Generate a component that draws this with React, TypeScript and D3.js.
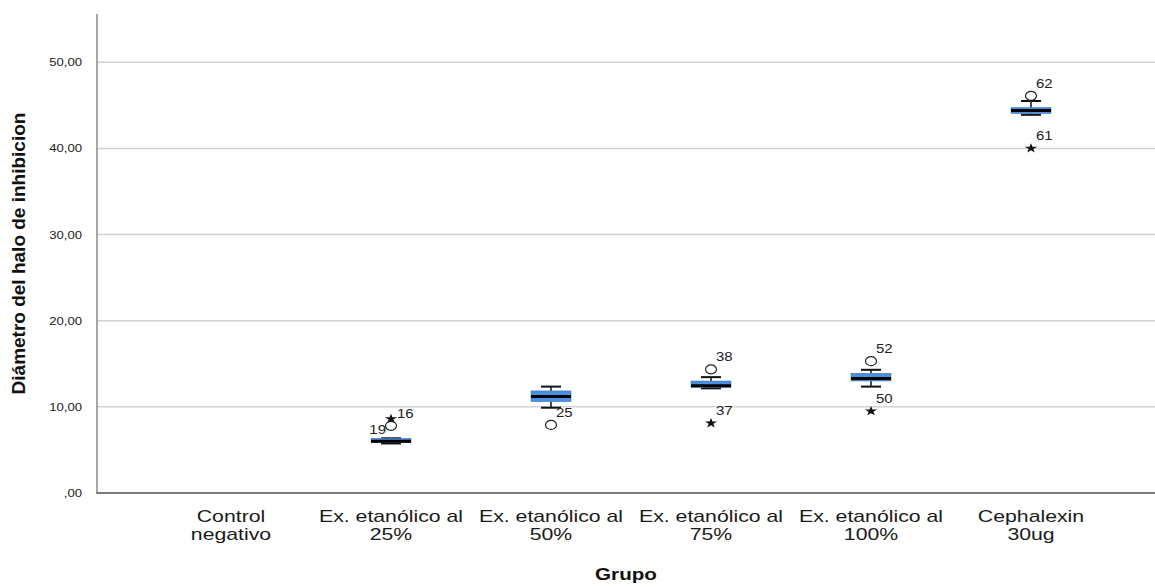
import React from 'react';
import * as d3 from 'd3';

// data
const groups = ['Control negativo', 'Ex. etanólico al 25%', 'Ex. etanólico al 50%', 'Ex. etanólico al 75%', 'Ex. etanólico al 100%', 'Cephalexin 30ug'];
const groupLines = [['Control', 'negativo'], ['Ex. etanólico al', '25%'], ['Ex. etanólico al', '50%'], ['Ex. etanólico al', '75%'], ['Ex. etanólico al', '100%'], ['Cephalexin', '30ug']];
const whiskerLow = [null, 5.75, 9.9, 12.15, 12.35, 43.9];
const quart1 = [null, 5.85, 10.6, 12.25, 13.0, 44.05];
const medians = [null, 6.0, 11.2, 12.45, 13.3, 44.4];
const quart3 = [null, 6.35, 11.85, 13.0, 13.9, 44.75];
const whiskerHigh = [null, 6.35, 12.35, 13.45, 14.3, 45.5];

// [group index, value, case id, kind]
const outliers: [number, number, string, string][] = [
    [1, 7.8, '19', 'circle'],
    [1, 8.6, '16', 'star'],
    [2, 7.9, '25', 'circle'],
    [3, 14.35, '38', 'circle'],
    [3, 8.1, '37', 'star'],
    [4, 15.3, '52', 'circle'],
    [4, 9.5, '50', 'star'],
    [5, 46.1, '62', 'circle'],
    [5, 40.0, '61', 'star'],
];

const yTicks = [0, 10, 20, 30, 40, 50];
const yTitle = 'Diámetro del halo de inhibicion';
const xTitle = 'Grupo';

// label placement next to each case marker (dx, dy, anchor)
const labelPlace: Record<string, [number, number, string]> = {
    '19': [-5, 8, 'end'],
    '16': [6, -1, 'start'],
};

const W = 1155;
const H = 587;
const left = 97;
const top = 14;
const bottom = 493;
const SX = 1.25; // reference text is stretched horizontally
const font = "'Liberation Sans', Arial, sans-serif";

export default function App() {
    const x = d3.scalePoint<string>().domain(groups).range([231, 1031]);
    const y = d3.scaleLinear().domain([0, 55.6]).range([bottom, top]);
    const boxW = 40;
    const capW = 20;
    const star = d3.symbol().type(d3.symbolStar).size(30)() as string;
    const fmt = (v: number) => (v === 0 ? ',00' : v.toFixed(2).replace('.', ','));

    const stretched = (tx: number, ty: number, content: string, opts: any) => (
        <text transform={`translate(${tx},${ty}) scale(${SX},1)`} fontFamily={font} {...opts}>{content}</text>
    );

    return (
        <div style={{position: 'absolute', left: 0, top: 0}}>
            <svg width={W} height={H} style={{display: 'block', background: '#fff'}}>
                {/* gridlines */}
                {yTicks.filter((t) => t > 0).map((t) => (
                    <line key={'g' + t} x1={left} x2={W} y1={y(t)} y2={y(t)} stroke="#d2d2d2" strokeWidth={1.5} />
                ))}
                {/* axes */}
                <line x1={left} x2={left} y1={top} y2={bottom} stroke="#8a8a8a" strokeWidth={1.5} />
                <line x1={left - 0.75} x2={W} y1={bottom} y2={bottom} stroke="#7a7a7a" strokeWidth={1.8} />
                {yTicks.map((t) => (
                    <g key={'t' + t}>
                        {stretched(82, y(t) + 4, fmt(t), {fontSize: 10.5, fill: '#222', textAnchor: 'end'})}
                    </g>
                ))}
                {/* category labels */}
                {groups.map((g, i) => (
                    <g key={'c' + g}>
                        {groupLines[i].map((ln, j) => (
                            <g key={j}>{stretched(x(g) as number, 522 + j * 17.5, ln, {fontSize: 17, fill: '#1a1a1a', textAnchor: 'middle'})}</g>
                        ))}
                    </g>
                ))}
                {/* axis titles */}
                {stretched(626, 580, xTitle, {fontSize: 16.5, fontWeight: 'bold', fill: '#111', textAnchor: 'middle'})}
                <text transform={`translate(25,${(top + bottom) / 2}) rotate(-90)`} fontFamily={font}
                    fontSize={19} fontWeight="bold" fill="#111" textAnchor="middle">{yTitle}</text>

                {/* boxes */}
                {groups.map((g, i) => {
                    if (medians[i] == null) return null;
                    const cx = x(g) as number;
                    return (
                        <g key={'b' + g}>
                            <line x1={cx} x2={cx} y1={y(whiskerHigh[i]!)} y2={y(quart3[i]!)} stroke="#111" strokeWidth={1.5} />
                            <line x1={cx} x2={cx} y1={y(quart1[i]!)} y2={y(whiskerLow[i]!)} stroke="#111" strokeWidth={1.5} />
                            <line x1={cx - capW / 2} x2={cx + capW / 2} y1={y(whiskerHigh[i]!)} y2={y(whiskerHigh[i]!)} stroke="#111" strokeWidth={2} />
                            <line x1={cx - capW / 2} x2={cx + capW / 2} y1={y(whiskerLow[i]!)} y2={y(whiskerLow[i]!)} stroke="#111" strokeWidth={2} />
                            <rect x={cx - boxW / 2} width={boxW} y={y(quart3[i]!)} height={y(quart1[i]!) - y(quart3[i]!)}
                                fill="#4a90e2" stroke="#3b6fb0" strokeWidth={0.5} />
                            <line x1={cx - boxW / 2} x2={cx + boxW / 2} y1={y(medians[i]!)} y2={y(medians[i]!)} stroke="#000" strokeWidth={3} />
                        </g>
                    );
                })}

                {/* outliers and extremes */}
                {outliers.map(([gi, v, id, kind]) => {
                    const cx = x(groups[gi]) as number;
                    const cy = y(v);
                    const [dx, dy, anchor] = labelPlace[id] || [5, -8, 'start'];
                    return (
                        <g key={'o' + id}>
                            {kind === 'circle'
                                ? <ellipse cx={cx} cy={cy} rx={5.5} ry={4.5} fill="none" stroke="#222" strokeWidth={1.2} />
                                : <path d={star} transform={`translate(${cx},${cy}) scale(${SX},1)`} fill="#111" />}
                            {stretched(cx + dx, cy + dy, id, {fontSize: 12, fill: '#222', textAnchor: anchor})}
                        </g>
                    );
                })}
            </svg>
        </div>
    );
}
